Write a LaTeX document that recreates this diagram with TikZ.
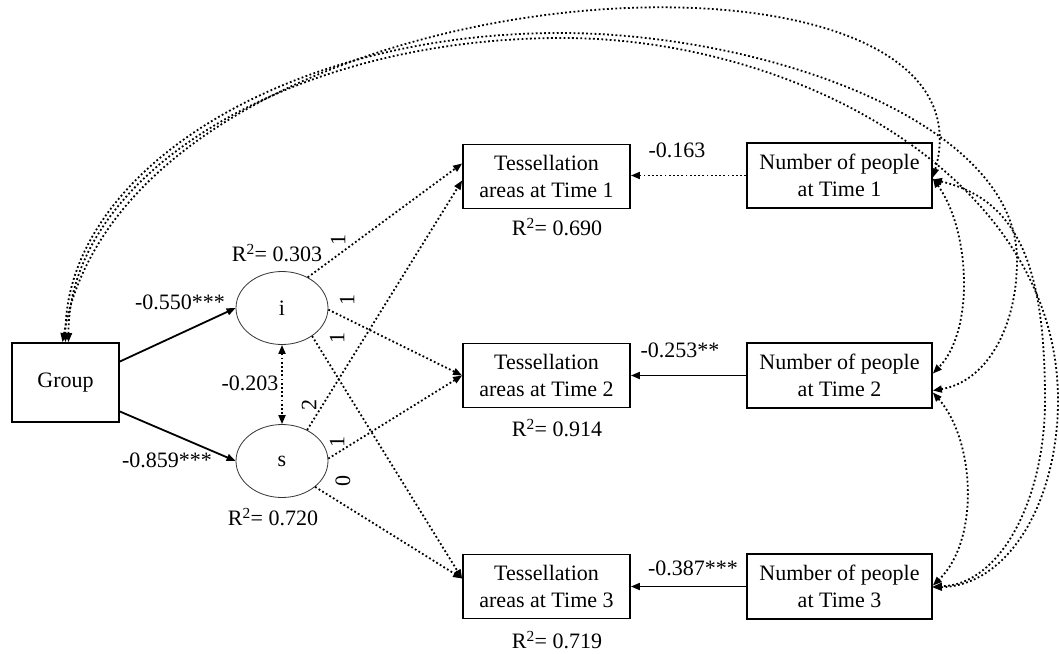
\documentclass[tikz,border=0pt]{standalone}
\usepackage{fontspec}
\setmainfont{Liberation Serif}
\usetikzlibrary{arrows.meta,shapes.geometric}
\begin{document}
\begin{tikzpicture}[x=1pt,y=-1pt,
  font=\fontsize{22}{27}\selectfont,
  box/.style={draw,line width=1.8pt,rectangle,align=center,inner sep=0pt},
  tbox/.style={box,minimum width=167pt,minimum height=64pt},
  nbox/.style={box,minimum width=185pt,minimum height=65pt},
  latent/.style={draw=black!80,line width=0.8pt,ellipse,minimum width=92pt,minimum height=73pt,inner sep=0pt},
  dotl/.style={line width=1.8pt,dash pattern=on 1.8pt off 2.4pt},
  tip/.style={-{Triangle[length=9pt,width=7pt]}},
  dtip/.style={{Triangle[length=9pt,width=7pt]}-{Triangle[length=9pt,width=7pt]}},
  solidarr/.style={line width=1.8pt},
  lbl/.style={inner sep=0pt},
  ld/.style={inner sep=0pt,rotate=90}
]
\useasboundingbox (0,0) rectangle (1059,653);

% nodes
\node[box,minimum width=107pt,minimum height=79pt] (Group) at (65.5,382.5) {Group};
\node[latent] (i) at (282,308) {i};
\node[latent] (s) at (282,461) {s};
\node[tbox] (T1) at (546.5,176.5) {Tessellation\\areas at Time 1};
\node[tbox] (T2) at (546.5,375.5) {Tessellation\\areas at Time 2};
\node[tbox] (T3) at (546.5,586.5) {Tessellation\\areas at Time 3};
\node[nbox] (N1) at (839.5,175.5) {Number of people\\at Time 1};
\node[nbox] (N2) at (839.5,375.5) {Number of people\\at Time 2};
\node[nbox] (N3) at (839.5,586.5) {Number of people\\at Time 3};

% labels
\node[lbl] (r1) at (557,227) {R\textsuperscript{2}= 0.690};
\node[lbl] (r2) at (557,428) {R\textsuperscript{2}= 0.914};
\node[lbl] (r3) at (557,640) {R\textsuperscript{2}= 0.719};
\node[lbl] (ri) at (277,253) {R\textsuperscript{2}= 0.303};
\node[lbl] (rs) at (273,517) {R\textsuperscript{2}= 0.720};
\node[lbl] (c1) at (677,150) {-0.163};
\node[lbl] (c2) at (680,350) {-0.253**};
\node[lbl] (c3) at (693,568) {-0.387***};
\node[lbl] (gi) at (180,302) {-0.550***};
\node[lbl] (gs) at (167,460) {-0.859***};
\node[lbl] (is) at (250,383) {-0.203};
\node[ld] (l1) at (338,240) {1};
\node[ld] (l2) at (347,300) {1};
\node[ld] (l3) at (337,338) {1};
\node[ld] (l4) at (309,405) {2};
\node[ld] (l5) at (337,442) {1};
\node[ld] (l6) at (343,481) {0};

% paths
\draw[solidarr,tip] ([yshift=21pt]Group.east) -- (i.west);
\draw[solidarr,tip] ([yshift=-29pt]Group.east) -- (s.west);
\draw[dotl,dtip] (i.south) -- (s.north);

\draw[dotl,tip] (i.50) -- ([yshift=13pt]T1.west);
\draw[dotl,tip] (i.-2) -- (T2.west);
\draw[dotl,tip] (i.-43) -- ([yshift=8pt]T3.west);
\draw[dotl,tip] (s.51) -- ([yshift=-4pt]T1.west);
\draw[dotl,tip] (s.3) -- (T2.west);
\draw[dotl,tip] (s.-38) -- ([yshift=8pt]T3.west);

\draw[dotl,tip] (N1.west) -- (N1.west -| T1.east);
\draw[solidarr,tip] (N2.west) -- (N2.west -| T2.east);
\draw[solidarr,tip] (N3.west) -- (N3.west -| T3.east);

% covariances
\draw[dotl,dtip] ([xshift=-3pt]Group.north) .. controls (130,-40) and (1010,-90) .. ([yshift=-2pt]N1.east);
\draw[dotl,dtip] (Group.north) .. controls (65,172) and (284,33) .. (560,33) .. controls (760,33) and (1017,120) .. (1017,260) .. controls (1017,330) and (985,382) .. ([yshift=-15pt]N2.east);
\draw[dotl,dtip] ([xshift=3pt]Group.north) .. controls (68,176) and (288,38) .. (562,38) .. controls (800,38) and (1058,180) .. (1058,400) .. controls (1058,500) and (1010,585) .. ([yshift=-1pt]N3.east);
\draw[dotl,dtip] ([yshift=-4pt]N1.east) .. controls (1020,200) and (1045,270) .. (1045,400) .. controls (1045,500) and (1000,585) .. (N3.east);
\draw[dotl,dtip] ([yshift=-3pt]N1.east) .. controls (970,230) and (975,330) .. ([yshift=2pt]N2.east);
\draw[dotl,dtip] ([yshift=-17pt]N2.east) .. controls (975,440) and (980,540) .. ([yshift=1pt]N3.east);
\end{tikzpicture}
\end{document}
